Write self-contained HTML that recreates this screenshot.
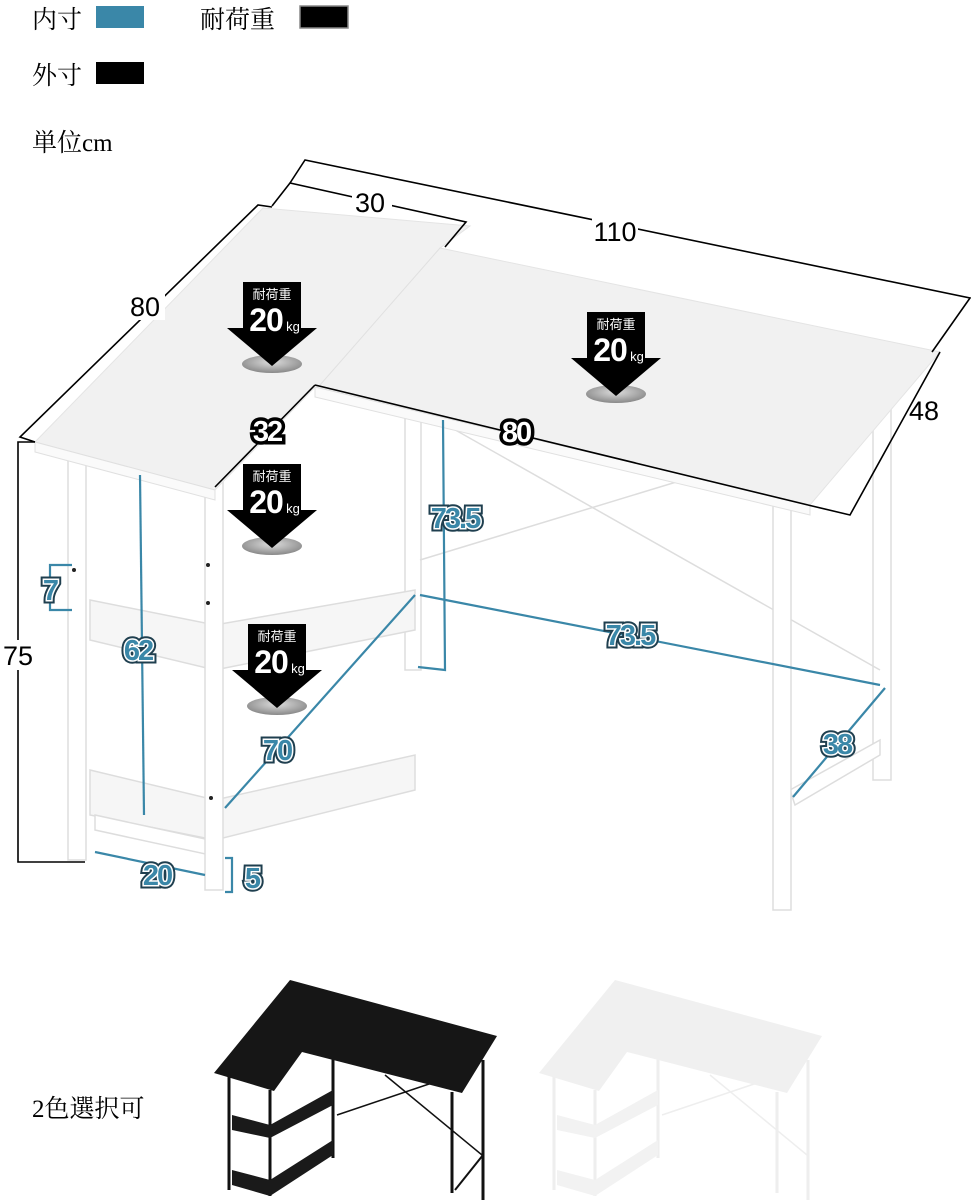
<!DOCTYPE html>
<html><head><meta charset="utf-8"><style>
html,body{margin:0;padding:0;background:#fff;}
svg{display:block;}
.jp{font-family:"Liberation Serif","Noto Serif CJK SC",serif;}
.lbl{font-family:"Liberation Sans","Noto Sans CJK JP",sans-serif;}
.bo{font-family:"Liberation Sans",sans-serif;font-weight:bold;font-size:29px;fill:#1f3f4f;stroke:#1f3f4f;stroke-width:7px;letter-spacing:-2px;}
.bw{font-family:"Liberation Sans",sans-serif;font-weight:bold;font-size:29px;fill:#3a87a8;stroke:#fff;stroke-width:3px;paint-order:stroke;letter-spacing:-2px;}
</style></head><body>
<svg width="971" height="1200" viewBox="0 0 971 1200" xmlns="http://www.w3.org/2000/svg">
<defs>
<radialGradient id="sh" cx="50%" cy="40%" r="60%"><stop offset="0" stop-color="#ddd"/><stop offset="1" stop-color="#888"/></radialGradient>
<g id="wt">
 <ellipse cx="0" cy="46" rx="30" ry="9" fill="url(#sh)"/>
 <rect x="-29" y="-36" width="58" height="48" fill="#000"/>
 <polygon points="-45,10 45,10 0,48" fill="#000"/>
 <text x="0" y="-19" text-anchor="middle" font-family="Liberation Sans,'Noto Sans CJK JP',sans-serif" font-size="13" fill="#fff">耐荷重</text>
 <text x="-6" y="13" text-anchor="middle" font-family="Liberation Sans,sans-serif" font-weight="bold" font-size="32" fill="#fff" letter-spacing="-1">20</text>
 <text x="21" y="13" text-anchor="middle" font-family="Liberation Sans,sans-serif" font-size="13" fill="#fff">kg</text>
</g>
<g id="L1"><text x="455" y="528" text-anchor="middle">73.5</text><text x="630" y="645" text-anchor="middle">73.5</text><text x="138" y="660" text-anchor="middle">62</text><text x="277" y="760" text-anchor="middle">70</text><text x="837" y="754" text-anchor="middle">38</text><text x="157" y="885" text-anchor="middle">20</text><text x="252" y="888" text-anchor="middle">5</text><text x="50" y="600" text-anchor="middle">7</text></g>
</defs>

<text x="32" y="28" class="jp" font-size="25">内寸</text>
<rect x="96" y="6" width="48" height="22" fill="#3a87a8"/>
<text x="200" y="28" class="jp" font-size="25">耐荷重</text>
<rect x="300" y="6" width="48" height="22" fill="#000" stroke="#888" stroke-width="1.5"/>
<text x="32" y="84" class="jp" font-size="25">外寸</text>
<rect x="96" y="62" width="48" height="22" fill="#000"/>
<text x="32" y="151" class="jp" font-size="25">単位cm</text>

<g fill="#fff" stroke="#ddd" stroke-width="1.5">
 <rect x="405" y="395" width="16" height="275"/>
 <rect x="873" y="410" width="18" height="370"/>
 <line x1="420" y1="560" x2="880" y2="420"/>
 <line x1="420" y1="410" x2="880" y2="670"/>
 <polygon points="90,600 215,625 415,590 415,630 215,670 90,640" fill="#f6f6f6"/>
 <polygon points="90,770 215,800 415,755 415,790 215,840 90,815" fill="#f6f6f6"/>
 <polygon points="95,815 210,840 210,855 95,830"/>
 <polygon points="790,790 880,740 880,755 795,805"/>
 <rect x="68" y="450" width="18" height="410"/>
 <rect x="205" y="480" width="18" height="410"/>
 <rect x="773" y="500" width="18" height="410"/>
</g>
<g fill="#222">
 <circle cx="74" cy="570" r="2"/><circle cx="208" cy="565" r="2"/><circle cx="208" cy="603" r="2"/><circle cx="211" cy="798" r="2"/>
</g>

<polygon points="35,442 263,208 470,226 440,248 940,352 810,505 315,387 215,490" fill="#f1f1f1" stroke="#e4e4e4"/>
<polygon points="35,442 215,490 215,500 35,452" fill="#fafafa" stroke="#e0e0e0"/>
<polygon points="315,387 810,505 810,515 315,397" fill="#fafafa" stroke="#e0e0e0"/>
<line x1="440" y1="248" x2="320" y2="385" stroke="#e0e0e0"/>

<g stroke="#000" stroke-width="1.6" fill="none">
 <polyline points="290,183 305,160 970,298 932,352"/>
 <polyline points="272,206 290,183 466,222 445,247"/>
 <polyline points="35,442 20,437 258,205 272,207"/>
 <polyline points="85,862 18,862 18,442 35,442"/>
 <line x1="315" y1="385" x2="808" y2="505"/>
 <polyline points="808,505 850,515 940,352"/>
 <line x1="315" y1="385" x2="215" y2="487"/>
</g>
<rect x="352" y="185" width="40" height="30" fill="#fff"/>
<text x="370" y="212" text-anchor="middle" class="lbl" font-size="27">30</text>
<rect x="592" y="215" width="46" height="30" fill="#fff"/>
<text x="615" y="241" text-anchor="middle" class="lbl" font-size="27">110</text>
<rect x="125" y="290" width="40" height="30" fill="#fff"/>
<text x="145" y="316" text-anchor="middle" class="lbl" font-size="27">80</text>
<text x="924" y="420" text-anchor="middle" class="lbl" font-size="27">48</text>
<rect x="0" y="640" width="36" height="30" fill="#fff"/>
<text x="18" y="665" text-anchor="middle" class="lbl" font-size="27">75</text>
<text x="516" y="442" text-anchor="middle" class="lbl" font-weight="bold" font-size="29" fill="#fff" stroke="#000" stroke-width="7" paint-order="stroke" letter-spacing="-2">80</text>
<text x="267" y="441" text-anchor="middle" class="lbl" font-weight="bold" font-size="29" fill="#fff" stroke="#000" stroke-width="7" paint-order="stroke" letter-spacing="-2">32</text>

<g stroke="#3a87a8" stroke-width="2.2" fill="none">
 <line x1="140" y1="475" x2="144" y2="815"/>
 <polyline points="443,420 445,670 418,667"/>
 <line x1="420" y1="595" x2="880" y2="685"/>
 <line x1="415" y1="595" x2="225" y2="808"/>
 <line x1="885" y1="688" x2="793" y2="797"/>
 <line x1="95" y1="852" x2="205" y2="875"/>
 <polyline points="225,858 232,858 232,892 225,892"/>
 <polyline points="72,565 50,565 50,610 72,610"/>
</g>
<use href="#L1" class="bo"/>
<use href="#L1" class="bw"/>

<use href="#wt" x="272" y="318"/>
<use href="#wt" x="616" y="348"/>
<use href="#wt" x="272" y="500"/>
<use href="#wt" x="277" y="660"/>

<text x="32" y="1117" class="jp" font-size="25">2色選択可</text>
<g>
 <g stroke="#111" stroke-width="3">
  <line x1="229" y1="1075" x2="229" y2="1190"/><line x1="270" y1="1090" x2="270" y2="1196"/>
  <line x1="333" y1="1052" x2="333" y2="1158"/><line x1="452" y1="1092" x2="452" y2="1193"/>
  <line x1="483" y1="1060" x2="483" y2="1200"/>
  <line x1="337" y1="1115" x2="432" y2="1083" stroke-width="1.5"/><line x1="385" y1="1075" x2="482" y2="1155" stroke-width="1.5"/>
  <line x1="455" y1="1190" x2="483" y2="1155" stroke-width="2"/>
 </g>
 <polygon points="232,1115 270,1125 333,1090 333,1105 270,1138 232,1130" fill="#1a1a1a"/>
 <polygon points="232,1170 270,1180 333,1140 333,1155 270,1196 232,1185" fill="#1a1a1a"/>
 <polygon points="290,980 497,1036 462,1093 302,1052 274,1091 214,1073" fill="#161616"/>
</g>
<g>
 <g stroke="#eee" stroke-width="3">
  <line x1="554" y1="1075" x2="554" y2="1190"/><line x1="595" y1="1090" x2="595" y2="1196"/>
  <line x1="658" y1="1052" x2="658" y2="1158"/><line x1="777" y1="1092" x2="777" y2="1193"/>
  <line x1="808" y1="1060" x2="808" y2="1200"/>
  <line x1="662" y1="1115" x2="757" y2="1083" stroke-width="1.5"/><line x1="710" y1="1075" x2="807" y2="1155" stroke-width="1.5"/>
 </g>
 <polygon points="557,1115 595,1125 658,1090 658,1105 595,1138 557,1130" fill="#f2f2f2"/>
 <polygon points="557,1170 595,1180 658,1140 658,1155 595,1196 557,1185" fill="#f2f2f2"/>
 <polygon points="615,980 822,1036 787,1093 627,1052 599,1091 539,1073" fill="#f0f0f0"/>
</g>
</svg>
</body></html>
